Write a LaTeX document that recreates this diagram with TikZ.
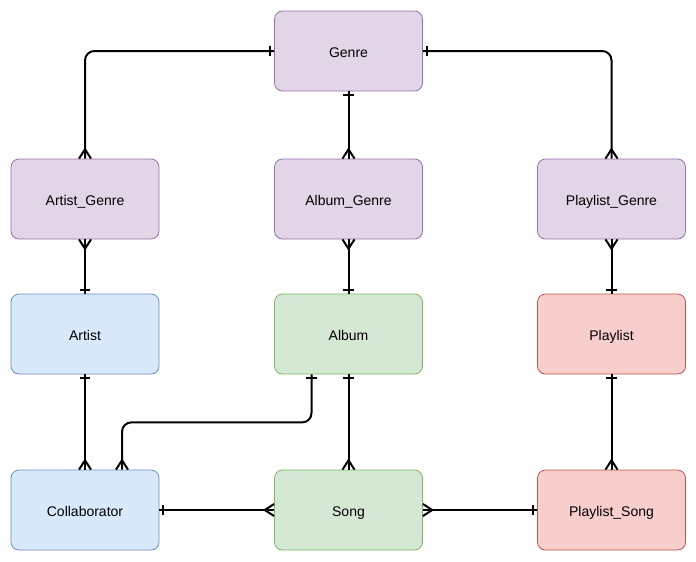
\documentclass[tikz,border=0pt]{standalone}
\usepackage{fontspec}
\setmainfont{Liberation Sans}
\usetikzlibrary{arrows.meta}
\definecolor{purpfill}{HTML}{E1D5E7}\definecolor{purpline}{HTML}{9673A6}
\definecolor{bluefill}{HTML}{DAE8FC}\definecolor{blueline}{HTML}{6C8EBF}
\definecolor{greenfill}{HTML}{D5E8D4}\definecolor{greenline}{HTML}{82B366}
\definecolor{redfill}{HTML}{F8CECC}\definecolor{redline}{HTML}{B85450}
% ER ends: a bar for "one", a crow's foot for "many"
\pgfdeclarearrow{
  name=One,
  setup code={\pgfarrowssettipend{0pt}\pgfarrowssetlineend{0pt}
    \pgfarrowssetbackend{-4pt}},
  drawing code={\pgfpathmoveto{\pgfqpoint{-3pt}{4pt}}
    \pgfpathlineto{\pgfqpoint{-3pt}{-4pt}}\pgfusepathqstroke}
}
\pgfdeclarearrow{
  name=Many,
  setup code={\pgfarrowssettipend{0pt}\pgfarrowssetlineend{0pt}
    \pgfarrowssetbackend{-7pt}},
  drawing code={\pgfpathmoveto{\pgfqpoint{0pt}{4.5pt}}
    \pgfpathlineto{\pgfqpoint{-7pt}{0pt}}
    \pgfpathlineto{\pgfqpoint{0pt}{-4.5pt}}\pgfusepathqstroke}
}
\begin{document}
\begin{tikzpicture}[x=0.75pt,y=-0.75pt,
  entity/.style={rounded corners=6pt,minimum width=111pt,minimum height=60pt,
    font=\fontsize{10.5}{12}\selectfont,text height=9.1pt,text depth=0pt,
    line width=0.6pt},
  link/.style={line width=1.5pt,rounded corners=7pt}]
  \useasboundingbox (0,0) rectangle (696,561);
  % tables
  \node[entity,fill=purpfill,draw=purpline] (genre) at (348.5,51) {Genre};
  \node[entity,fill=purpfill,draw=purpline] (artgen) at (85,199) {Artist\_Genre};
  \node[entity,fill=purpfill,draw=purpline] (albgen) at (348.5,199) {Album\_Genre};
  \node[entity,fill=purpfill,draw=purpline] (plgen) at (611.5,199) {Playlist\_Genre};
  \node[entity,fill=bluefill,draw=blueline] (artist) at (85,334) {Artist};
  \node[entity,fill=greenfill,draw=greenline] (album) at (348.5,334) {Album};
  \node[entity,fill=redfill,draw=redline] (playlist) at (611.5,334) {Playlist};
  \node[entity,fill=bluefill,draw=blueline] (collab) at (85,510) {Collaborator};
  \node[entity,fill=greenfill,draw=greenline] (song) at (348.5,510) {Song};
  \node[entity,fill=redfill,draw=redline] (plsong) at (611.5,510) {Playlist\_Song};
  % relations
  \draw[link,One-Many] (genre.west) -| (artgen.north);
  \draw[link,One-Many] (genre.south) -- (albgen.north);
  \draw[link,One-Many] (genre.east) -| (plgen.north);
  \draw[link,Many-One] (artgen.south) -- (artist.north);
  \draw[link,Many-One] (albgen.south) -- (album.north);
  \draw[link,Many-One] (plgen.south) -- (playlist.north);
  \draw[link,One-Many] (artist.south) -- (collab.north);
  \draw[link,One-Many] ([xshift=-27.75pt]album.south) -- ++(0,48)
    -| ([xshift=27.75pt]collab.north);
  \draw[link,One-Many] (album.south) -- (song.north);
  \draw[link,One-Many] (collab.east) -- (song.west);
  \draw[link,Many-One] (song.east) -- (plsong.west);
  \draw[link,One-Many] (playlist.south) -- (plsong.north);
\end{tikzpicture}
\end{document}
